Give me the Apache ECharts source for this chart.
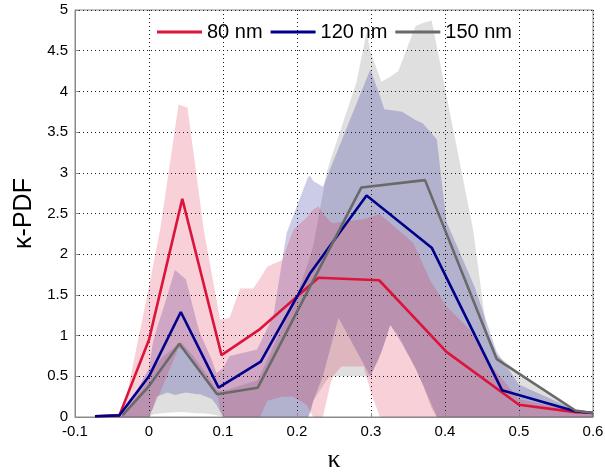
<!DOCTYPE html>
<html><head><meta charset="utf-8">
<script src="https://cdn.jsdelivr.net/npm/echarts/dist/echarts.min.js"></script>
<style>html,body{margin:0;padding:0;background:#fff}#c{width:605px;height:475px}</style>
</head><body><div id="c"></div>
<script>
// ---- axis ticks ----
const xTicks = [-0.1, 0, 0.1, 0.2, 0.3, 0.4, 0.5, 0.6];
const yTicks = [0, 0.5, 1, 1.5, 2, 2.5, 3, 3.5, 4, 4.5, 5];
const seriesNames = ['80 nm', '120 nm', '150 nm'];

// ---- mean lines ----
const redX  = [-0.073, -0.04, 0, 0.045, 0.098, 0.15, 0.229, 0.311, 0.402, 0.5, 0.576, 0.6];
const redY  = [0.01, 0.02, 0.95, 2.68, 0.76, 1.08, 1.71, 1.68, 0.8, 0.15, 0.06, 0.05];
const blueX = [-0.073, -0.04, 0, 0.043, 0.094, 0.151, 0.218, 0.294, 0.382, 0.477, 0.576, 0.6];
const blueY = [0.01, 0.02, 0.5, 1.29, 0.36, 0.68, 1.77, 2.72, 2.08, 0.33, 0.07, 0.05];
const grayX = [-0.036, 0, 0.041, 0.092, 0.147, 0.287, 0.373, 0.47, 0.576, 0.6];
const grayY = [0.02, 0.38, 0.9, 0.28, 0.36, 2.82, 2.91, 0.71, 0.08, 0.05];

// ---- shaded ranges (lower / upper) ----
const redBandX  = [-0.073,-0.035,0,0.015,0.04,0.052,0.074,0.092,0.096,0.1,0.109,0.123,0.141,0.15,0.16,0.18,0.195,0.213,0.222,0.229,0.235,0.245,0.249,0.26,0.29,0.3,0.312,0.357,0.38,0.402,0.434,0.456,0.5,0.58,0.6];
const redBandLo = [0,0,0,0.3,0.85,0.8,0.5,0.3,0.1,0,0,0,0,0,0.2,0.25,0.25,0.15,0,0,0,0.4,0.5,0.62,0.62,0.3,0,0,0,0,0,0,0,0,0];
const redBandHi = [0.01,0.05,1.6,2.3,3.84,3.8,2.3,1.4,1.2,1.2,1.22,1.58,1.58,1.7,1.85,1.93,2.3,2.45,2.55,2.59,2.5,2.4,2.38,2.4,2.43,2.46,2.49,2.14,1.68,1.36,1.07,0.7,0.22,0.06,0.05];

const blueBandX  = [-0.073,-0.035,0,0.005,0.01,0.025,0.035,0.05,0.065,0.069,0.085,0.091,0.1,0.109,0.146,0.168,0.186,0.215,0.218,0.222,0.235,0.256,0.299,0.31,0.318,0.326,0.342,0.36,0.37,0.389,0.402,0.44,0.47,0.5,0.58,0.6];
const blueBandLo = [0,0,0,0.1,0.25,0.3,0.27,0.3,0.28,0.28,0.22,0.15,0,0,0,0,0,0,0.05,0.2,0.5,1.22,0.5,0.7,0.9,1.13,0.9,0.6,0.4,0,0,0,0,0,0,0];
const blueBandHi = [0.01,0.02,0.6,0.9,1.07,1.5,1.81,1.69,1.15,1.03,0.7,0.54,0.6,0.75,0.83,1.24,2.26,2.95,2.96,2.9,2.83,3.3,4.27,4.0,3.78,3.77,3.75,3.65,3.61,3.41,2.4,1.6,0.8,0.4,0.07,0.05];

const grayBandX  = [-0.036,0,0.005,0.02,0.043,0.06,0.08,0.092,0.1,0.147,0.2,0.215,0.222,0.24,0.245,0.28,0.294,0.299,0.314,0.326,0.337,0.36,0.37,0.382,0.389,0.438,0.456,0.47,0.5,0.58,0.6];
const grayBandLo = [0,0,0.03,0.05,0.06,0.05,0.04,0.02,0,0,0,0,0.2,0.45,0.5,0.5,0.5,0.5,0.8,1.13,1.0,0.6,0.4,0.1,0,0,0,0,0,0,0];
const grayBandHi = [0.02,0.45,0.6,0.75,0.92,0.75,0.5,0.33,0.32,0.45,1.5,1.9,2.1,3.0,3.15,4.1,4.72,4.5,4.12,4.18,4.25,4.8,4.84,4.87,4.55,2.3,1.07,0.76,0.55,0.08,0.05];

const colors = ['#DC143C', '#00008B', '#696969'];
const bandColors = ['rgba(220,20,60,0.2)', 'rgba(0,0,139,0.2)', 'rgba(128,128,128,0.25)'];

function pairs(xs, ys) { return xs.map((x, i) => [x, ys[i]]); }

function band(name, xs, lo, hi, fill) {
  return {
    type: 'custom', name: name, silent: true, z: 1,
    renderItem: function (params, api) {
      const pts = [];
      for (let i = 0; i < xs.length; i++) pts.push(api.coord([xs[i], hi[i]]));
      for (let i = xs.length - 1; i >= 0; i--) pts.push(api.coord([xs[i], lo[i]]));
      return { type: 'polygon', shape: { points: pts }, style: { fill: fill } };
    },
    data: [[xs[0], lo[0]]]
  };
}
function line(name, xs, ys, color) {
  return {
    type: 'line', name: name, data: pairs(xs, ys), symbol: 'none', z: 5,
    lineStyle: { color: color, width: 2.6 }, itemStyle: { color: color }
  };
}

const font = 'Liberation Sans, Arial, Helvetica, sans-serif';
function gridStyle() { return { show: true, lineStyle: { type: [1, 3], color: '#1a1a1a', width: 1 } }; }
const chart = echarts.init(document.getElementById('c'), null, { renderer: 'canvas' });
chart.setOption({
  animation: false,
  backgroundColor: '#fff',
  grid: { left: 75, right: 12, top: 10, bottom: 58, containLabel: false, outerBoundsMode: 'none',
          show: true, borderColor: '#8a8a8a', borderWidth: 1, backgroundColor: 'transparent' },
  legend: {
    data: seriesNames, icon: 'rect', itemWidth: 45, itemHeight: 3, itemGap: 8, padding: 0,
    left: 157, top: 22, textStyle: { fontSize: 20, fontFamily: font, color: '#000' }
  },
  xAxis: {
    type: 'value', min: xTicks[0], max: xTicks[xTicks.length - 1], interval: 0.1, z: 3,
    name: 'κ', nameLocation: 'middle', nameGap: 30,
    nameTextStyle: { fontSize: 26, fontFamily: 'Liberation Serif, DejaVu Serif, serif', color: '#000' },
    axisLine: { onZero: false, lineStyle: { color: '#8a8a8a' } },
    axisTick: { inside: true, length: 4, lineStyle: { color: '#8a8a8a' } },
    axisLabel: { fontSize: 15, fontFamily: font, color: '#000', margin: 7 },
    splitLine: gridStyle()
  },
  yAxis: {
    type: 'value', min: yTicks[0], max: yTicks[yTicks.length - 1], interval: 0.5, z: 3,
    name: 'κ-PDF', nameLocation: 'middle', nameGap: 38,
    nameTextStyle: { fontSize: 25, fontFamily: font, color: '#000' },
    axisLine: { show: true, onZero: false, lineStyle: { color: '#8a8a8a' } },
    axisTick: { show: true, inside: true, length: 4, lineStyle: { color: '#8a8a8a' } },
    axisLabel: { fontSize: 15, fontFamily: font, color: '#000', margin: 7 },
    splitLine: gridStyle()
  },
  series: [
    band('150 band', grayBandX, grayBandLo, grayBandHi, bandColors[2]),
    band('120 band', blueBandX, blueBandLo, blueBandHi, bandColors[1]),
    band('80 band', redBandX, redBandLo, redBandHi, bandColors[0]),
    line(seriesNames[0], redX, redY, colors[0]),
    line(seriesNames[1], blueX, blueY, colors[1]),
    line(seriesNames[2], grayX, grayY, colors[2])
  ]
});
</script></body></html>
